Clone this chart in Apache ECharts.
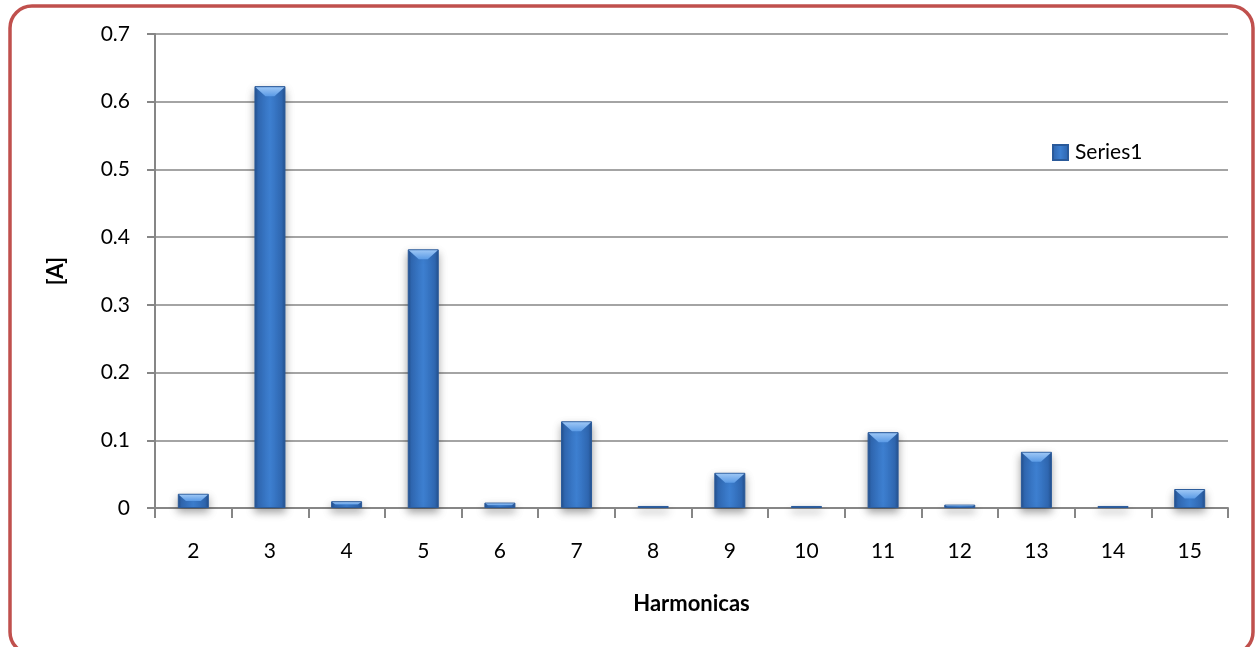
<!DOCTYPE html>
<html>
<head>
<meta charset="utf-8">
<style>
  html, body { margin: 0; padding: 0; background: #ffffff; }
  #chart { width: 1257px; height: 647px; }
</style>
<script src="https://cdn.jsdelivr.net/npm/echarts@6/dist/echarts.min.js"></script>
</head>
<body>
<div id="chart"></div>
<script>
// Harmonic orders and their current magnitudes in amperes
const harmonics = ['2', '3', '4', '5', '6', '7', '8', '9', '10', '11', '12', '13', '14', '15'];
const currents = [0.021, 0.623, 0.010, 0.382, 0.008, 0.128, 0.003, 0.052, 0.003, 0.112, 0.005, 0.083, 0.003, 0.028];
const yTicks = [0, 0.1, 0.2, 0.3, 0.4, 0.5, 0.6, 0.7];

const FONT = 'Lato, "Open Sans", sans-serif';
const chart = echarts.init(document.getElementById('chart'));

const barFill = new echarts.graphic.LinearGradient(0, 0, 1, 0, [
  { offset: 0, color: '#244f8c' },
  { offset: 0.12, color: '#3069b4' },
  { offset: 0.5, color: '#3d7fd0' },
  { offset: 0.88, color: '#3069b4' },
  { offset: 1, color: '#244f8c' }
]);

chart.setOption({
  animation: false,
  backgroundColor: '#ffffff',
  graphic: [{
    type: 'rect',
    shape: { x: 10, y: 6, width: 1243, height: 648, r: 22 },
    style: { fill: 'none', stroke: '#c0504d', lineWidth: 3.5 },
    z: 100
  }],
  grid: { left: 155, right: 29, top: 34, bottom: 139 },
  legend: {
    show: true,
    left: 1047,
    top: 137,
    itemWidth: 15,
    itemHeight: 15,
    itemGap: 4,
    icon: 'rect',
    textStyle: { fontFamily: FONT, fontSize: 21, color: '#000000', padding: [0, 0, 0, 2] },
    data: ['Series1']
  },
  xAxis: {
    type: 'category',
    data: harmonics,
    name: 'Harmonicas',
    nameLocation: 'middle',
    nameGap: 85,
    nameTextStyle: { fontFamily: FONT, fontSize: 22, fontWeight: 'bold', color: '#000' },
    axisLine: { lineStyle: { color: '#868686', width: 2 } },
    axisTick: { show: true, alignWithLabel: false, length: 10, lineStyle: { color: '#868686', width: 2 } },
    axisLabel: { fontFamily: FONT, fontSize: 21, color: '#000', margin: 33 },
    splitLine: { show: false }
  },
  yAxis: {
    type: 'value',
    min: 0,
    max: 0.7,
    interval: 0.1,
    name: '[A]',
    nameLocation: 'middle',
    nameGap: 88,
    nameRotate: 90,
    nameTextStyle: { fontFamily: FONT, fontSize: 22, fontWeight: 'bold', color: '#000' },
    axisLine: { show: true, lineStyle: { color: '#868686', width: 2 } },
    axisTick: { show: true, length: 8, lineStyle: { color: '#868686', width: 2 } },
    axisLabel: {
      fontFamily: FONT, fontSize: 21, color: '#000', margin: 25,
      formatter: v => {
        const t = yTicks.find(k => Math.abs(k - v) < 1e-9);
        return t === undefined ? '' : String(t);
      }
    },
    splitLine: { show: true, lineStyle: { color: '#868686', width: 1.5 } }
  },
  series: [{
    name: 'Series1',
    type: 'bar',
    data: currents,
    barWidth: 31,
    itemStyle: {
      color: barFill,
      borderColor: '#2a5a9a',
      borderWidth: 1,
      shadowColor: 'rgba(0,0,0,0.35)',
      shadowBlur: 8,
      shadowOffsetY: 4
    }
  }, {
    // bevelled highlight across the top of each bar
    name: 'bevel',
    type: 'custom',
    data: currents.map((v, i) => [i, v]),
    z: 3,
    renderItem: (params, api) => {
      const top = api.coord([api.value(0), api.value(1)]);
      const base = api.coord([api.value(0), 0]);
      const w = 31;
      const h = Math.min(10, (base[1] - top[1]) / 2);
      const x0 = top[0] - w / 2;
      const y0 = top[1];
      return {
        type: 'polygon',
        shape: { points: [[x0 + 1, y0 + 1], [x0 + w - 1, y0 + 1], [x0 + w - 1 - h, y0 + h], [x0 + 1 + h, y0 + h]] },
        style: {
          fill: new echarts.graphic.LinearGradient(0, 0, 0, 1, [
            { offset: 0, color: '#9cc6f5' },
            { offset: 1, color: '#5b9be6' }
          ])
        }
      };
    },
    tooltip: { show: false }
  }]
});
</script>
</body>
</html>
